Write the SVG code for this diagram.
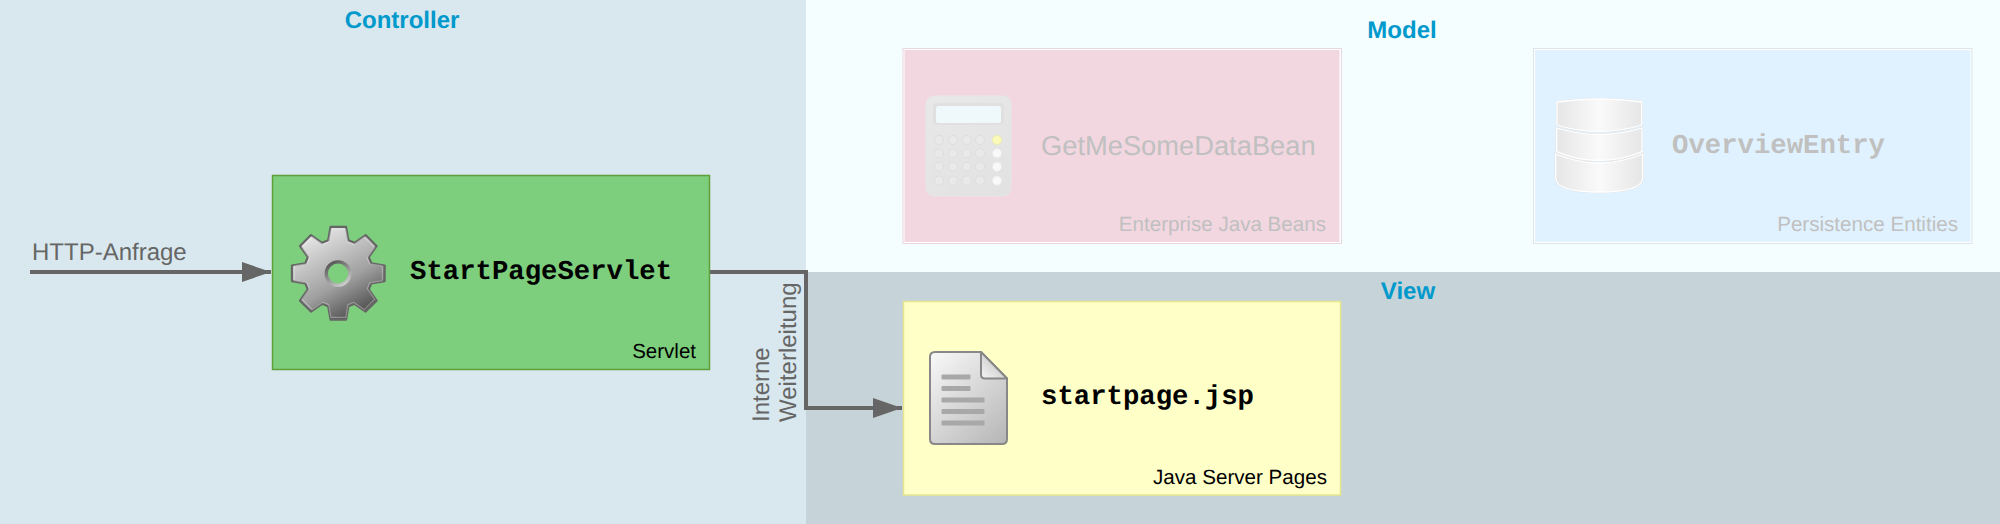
<svg xmlns="http://www.w3.org/2000/svg" width="2000" height="524" viewBox="0 0 2000 524">
<style>
text{text-rendering:geometricPrecision}
.layer{font:bold 24px "Liberation Sans",Arial,sans-serif;fill:#0099cc;text-anchor:middle}
.mono{font:bold 27.3px "Liberation Mono","Courier New",monospace}
.kind{font:20.5px "Liberation Sans",Arial,sans-serif;text-anchor:end}
.lbl{font:24px "Liberation Sans",Arial,sans-serif;fill:#666}
.ghost{fill:#c0c0c0}
.conn{fill:none;stroke:#666;stroke-width:4;stroke-linejoin:miter}
.btn{fill:#e9e9e9;stroke:#dedede;stroke-width:1}
.btl{fill:#f9f9f9;stroke:#ebebeb;stroke-width:1}
.line{fill:#a8a8a8}
.cylo{fill:none;stroke:#e2e2e2;stroke-width:2.2}
.cyl{fill:url(#cylG);stroke:#fff;stroke-width:1.3}
</style>
<defs>
<marker id="arr" markerUnits="userSpaceOnUse" markerWidth="30" markerHeight="22" refX="29" refY="11" orient="auto"><path d="M0,1L29,11L0,21Z" fill="#666"/></marker>
<linearGradient id="gearG" x1="0.2" y1="0" x2="0.75" y2="1"><stop offset="0" stop-color="#eeeeee"/><stop offset="0.6" stop-color="#a0a0a0"/><stop offset="1" stop-color="#444"/></linearGradient>
<linearGradient id="ringG" x1="0.2" y1="0" x2="0.8" y2="1"><stop offset="0" stop-color="#555"/><stop offset="1" stop-color="#d0d0d0"/></linearGradient>
<linearGradient id="docG" x1="0.1" y1="0" x2="0.9" y2="1"><stop offset="0" stop-color="#f6f6f6"/><stop offset="1" stop-color="#b8b8b8"/></linearGradient>
<linearGradient id="foldG" x1="0" y1="1" x2="1" y2="0"><stop offset="0" stop-color="#f6f6f6"/><stop offset="1" stop-color="#b4b4b4"/></linearGradient>
<linearGradient id="cylG" x1="0" y1="0" x2="1" y2="0"><stop offset="0" stop-color="#e6e6e6"/><stop offset="0.5" stop-color="#fafafa"/><stop offset="1" stop-color="#e6e6e6"/></linearGradient>
<linearGradient id="calcG" x1="0.2" y1="0" x2="0.8" y2="1"><stop offset="0" stop-color="#e8e8e8"/><stop offset="1" stop-color="#e2e2e2"/></linearGradient>
<path id="gearP" stroke-linejoin="round" d="M-7.76,-46.35L7.76,-46.35L10.09,-32.99L16.2,-30.46L27.3,-38.26L38.26,-27.3L30.46,-16.2L32.99,-10.09L46.35,-7.76L46.35,7.76L32.99,10.09L30.46,16.2L38.26,27.3L27.3,38.26L16.2,30.46L10.09,32.99L7.76,46.35L-7.76,46.35L-10.09,32.99L-16.2,30.46L-27.3,38.26L-38.26,27.3L-30.46,16.2L-32.99,10.09L-46.35,7.76L-46.35,-7.76L-32.99,-10.09L-30.46,-16.2L-38.26,-27.3L-27.3,-38.26L-16.2,-30.46L-10.09,-32.99Z"/>
<path id="c3" d="M1555.7,154Q1599,172 1642.7,154V178Q1642,192 1599,192Q1556,192 1555.7,178Z"/>
<path id="c2" d="M1556.7,128Q1599,141 1642,128V151.7Q1622,160.5 1599,160.5Q1576,160.5 1556.7,151.7Z"/>
<path id="c1" d="M1557,102Q1599,96 1641.7,102V125Q1622,131.5 1599,131.5Q1576,131.5 1557,125Z"/>
</defs>

<g id="layers">
<rect x="0" y="0" width="806" height="524" fill="#d9e8ef"/>
<rect x="806" y="0" width="1194" height="272" fill="#f5feff"/>
<rect x="806" y="272" width="1194" height="252" fill="#c6d3d9"/>
<text class="layer" x="402" y="28">Controller</text>
<text class="layer" x="1402" y="38">Model</text>
<text class="layer" x="1408" y="299">View</text>
</g>

<g id="connectors">
<path class="conn" d="M30,272H271" marker-end="url(#arr)"/>
<path class="conn" d="M710,272H806V408H902" marker-end="url(#arr)"/>
<text class="lbl" x="32" y="260">HTTP-Anfrage</text>
<text class="lbl" transform="translate(769,422) rotate(-90)">Interne</text>
<text class="lbl" transform="translate(795.5,422) rotate(-90)">Weiterleitung</text>
</g>

<g id="StartPageServlet">
<rect x="272.5" y="175.5" width="437" height="194" fill="#7dce7d" stroke="#5f9f3a" stroke-width="1.5"/>
<use href="#gearP" transform="translate(338.3,273.3)" fill="url(#gearG)" stroke="#666" stroke-width="2.2"/>
<use href="#gearP" transform="translate(338.3,273.3) scale(0.95)" fill="none" stroke="#fff" stroke-opacity="0.3" stroke-width="1.2"/>
<circle cx="338" cy="273.5" r="11.7" fill="#7dce7d" stroke="url(#ringG)" stroke-width="3.3"/>
<text class="mono" x="410" y="279" fill="#000">StartPageServlet</text>
<text class="kind" x="696" y="358" fill="#000">Servlet</text>
</g>

<g id="GetMeSomeDataBean">
<rect x="903" y="48.5" width="438.5" height="195" fill="#fff" stroke="#ead6de" stroke-width="1"/>
<rect x="904.5" y="50" width="435" height="192" fill="#f2d7e0"/>
<rect x="926" y="96" width="85" height="100" rx="8" fill="url(#calcG)" stroke="#e8e6e6" stroke-width="1"/>
<rect x="933" y="103" width="71" height="22" rx="4" fill="#e0e0e0"/>
<rect x="936" y="106" width="65" height="17" rx="2.5" fill="#eff9fb"/>
<g class="btn">
<circle cx="939" cy="140" r="4.6"/><circle cx="953" cy="140" r="4.6"/><circle cx="966.7" cy="140" r="4.6"/><circle cx="980" cy="140" r="4.6"/>
<circle cx="939" cy="153.3" r="4.6"/><circle cx="953" cy="153.3" r="4.6"/><circle cx="966.7" cy="153.3" r="4.6"/><circle cx="980" cy="153.3" r="4.6"/>
<circle cx="939" cy="166.7" r="4.6"/><circle cx="953" cy="166.7" r="4.6"/><circle cx="966.7" cy="166.7" r="4.6"/><circle cx="980" cy="166.7" r="4.6"/>
<circle cx="939" cy="180.7" r="4.6"/><circle cx="953" cy="180.7" r="4.6"/><circle cx="966.7" cy="180.7" r="4.6"/><circle cx="980" cy="180.7" r="4.6"/>
</g>
<circle cx="997" cy="140" r="4.6" fill="#fbfab8" stroke="#ecebb0"/>
<g class="btl"><circle cx="997" cy="153.3" r="4.6"/><circle cx="997" cy="166.7" r="4.6"/><circle cx="997" cy="180.7" r="4.6"/></g>
<text class="ghost" x="1041" y="155" style="font:27.3px 'Liberation Sans',Arial,sans-serif">GetMeSomeDataBean</text>
<text class="kind ghost" x="1326" y="231" style="font-size:20.6px">Enterprise Java Beans</text>
</g>

<g id="OverviewEntry">
<rect x="1533.5" y="48.5" width="438.5" height="195" fill="#fff" stroke="#dfe4e8" stroke-width="1"/>
<rect x="1535" y="50" width="435.5" height="192" fill="#e0f2ff"/>
<use href="#c3" class="cylo"/><use href="#c3" class="cyl"/>
<use href="#c2" class="cylo"/><use href="#c2" class="cyl"/>
<use href="#c1" class="cylo"/><use href="#c1" class="cyl"/>
<text class="mono ghost" x="1672" y="153">OverviewEntry</text>
<text class="kind ghost" x="1958" y="231" style="font-size:20.6px">Persistence Entities</text>
</g>

<g id="startpage">
<rect x="903.5" y="301.5" width="437" height="193.5" fill="#ffffc8" stroke="#e6e68c" stroke-width="1.5"/>
<path d="M981,352H935Q930,352 930,357V439Q930,444 935,444H1002Q1007,444 1007,439V378.5Z" fill="url(#docG)" stroke="#888" stroke-width="2" stroke-linejoin="round"/>
<path d="M981,352V374.5Q981,378.5 985,378.5H1007Z" fill="url(#foldG)" stroke="#888" stroke-width="2" stroke-linejoin="round"/>
<rect class="line" x="941.5" y="374.5" width="29" height="5" rx="1"/>
<rect class="line" x="941.5" y="386" width="29" height="5" rx="1"/>
<rect class="line" x="941.5" y="397.5" width="43" height="5" rx="1"/>
<rect class="line" x="941.5" y="409" width="43" height="5" rx="1"/>
<rect class="line" x="941.5" y="420.5" width="43" height="5" rx="1"/>
<text class="mono" x="1041" y="404" fill="#000">startpage.jsp</text>
<text class="kind" x="1327" y="484" fill="#000" style="font-size:20.6px">Java Server Pages</text>
</g>
</svg>
